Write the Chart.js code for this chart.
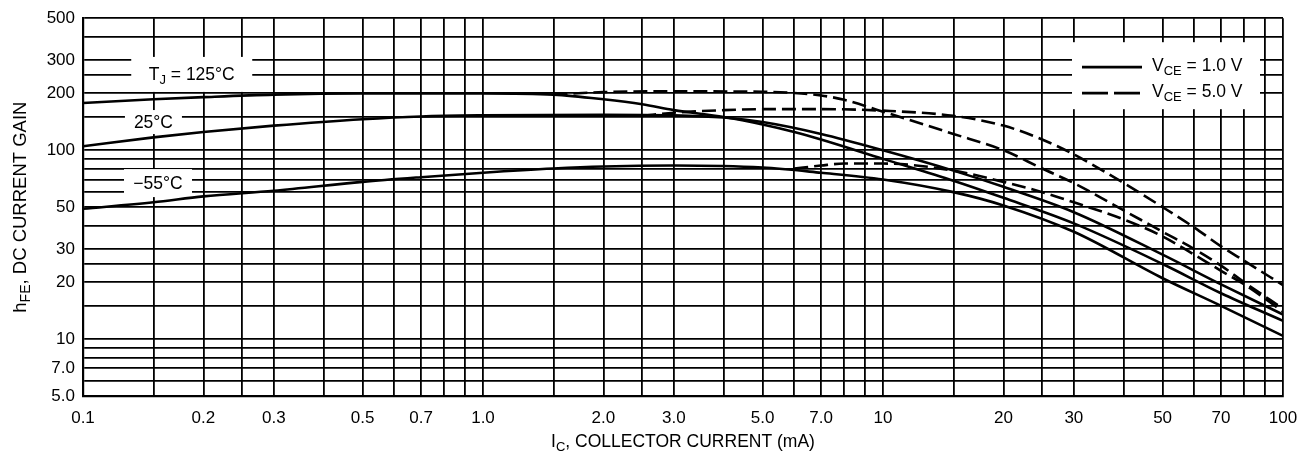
<!DOCTYPE html>
<html>
<head>
<meta charset="utf-8">
<title>hFE, DC Current Gain</title>
<script src="https://cdn.jsdelivr.net/npm/chart.js"></script>
<style>
  html, body { margin: 0; padding: 0; background: #fff; }
  #wrap { width: 1312px; height: 466px; }
</style>
</head>
<body>
<div id="wrap"><canvas id="chart"></canvas></div>
<script>
// IC (mA) / hFE readings, one pair of arrays per curve
// VCE = 1.0 V (solid)
const ic125a = [0.1, 0.15, 0.2, 0.3, 0.5, 1.0, 1.5, 2.0, 2.5, 3.0, 4.0, 5.0, 6.0, 7.0, 10, 15, 20, 30, 50, 70, 100];
const hfe125a = [178, 186, 191, 197, 200, 200, 197, 186, 175, 163, 150, 137, 125, 114, 90, 69, 56, 41, 25, 17.5, 12.5];
const ic25a = [0.1, 0.15, 0.2, 0.3, 0.5, 0.7, 1.0, 2.0, 3.0, 4.0, 5.0, 7.0, 10, 15, 20, 30, 50, 70, 100];
const hfe25a = [105, 117, 125, 135, 146, 151, 153, 154, 153, 149, 141, 122, 100, 78, 64, 47, 28, 19.5, 13.5];
const icM55a = [0.1, 0.15, 0.2, 0.3, 0.5, 0.7, 1.0, 1.5, 2.0, 3.0, 5.0, 7.0, 10, 15, 20, 30, 50, 70, 100];
const hfeM55a = [49, 53, 57, 61, 68, 72, 76, 80, 82, 83, 81, 76, 70, 60, 51, 37, 21, 15, 10.4];
// VCE = 5.0 V (dashed)
const ic125b = [1.5, 2.0, 3.0, 5.0, 6.0, 7.0, 8.0, 10, 15, 20, 25, 30, 40, 50, 60, 70, 80, 100];
const hfe125b = [197, 203, 205, 204, 201, 195, 185, 160, 122, 100, 80, 67, 48, 37, 30, 24.5, 20, 14.5];
const ic25b = [2.5, 3.0, 4.0, 5.0, 7.0, 10, 15, 20, 25, 30, 40, 50, 60, 70, 80, 100];
const hfe25b = [152, 158, 163, 165, 165, 162, 152, 135, 114, 95, 67, 50, 39, 31, 26, 19.3];
const icM55b = [6.0, 7.0, 8.0, 10, 15, 20, 25, 30, 40, 50, 60, 70, 80, 100];
const hfeM55b = [80, 83, 85, 85, 78, 68, 60, 53, 43, 35, 28, 23, 19.5, 14];

// grid lines and labelled ticks
const xGrid = [0.1, 0.15, 0.2, 0.25, 0.3, 0.4, 0.5, 0.6, 0.7, 0.8, 0.9,
  1, 1.5, 2, 2.5, 3, 4, 5, 6, 7, 8, 9,
  10, 15, 20, 25, 30, 40, 50, 60, 70, 80, 90, 100];
const xTickVals = [0.1, 0.2, 0.3, 0.5, 0.7, 1, 2, 3, 5, 7, 10, 20, 30, 50, 70, 100];
const xTickText = ["0.1", "0.2", "0.3", "0.5", "0.7", "1.0", "2.0", "3.0", "5.0", "7.0", "10", "20", "30", "50", "70", "100"];
const yGrid = [5, 6, 7, 8, 9, 10, 15, 20, 25, 30, 40, 50, 60, 70, 80, 90, 100, 150, 200, 250, 300, 400, 500];
const yTickVals = [5, 7, 10, 20, 30, 50, 100, 200, 300, 500];
const yTickText = ["5.0", "7.0", "10", "20", "30", "50", "100", "200", "300", "500"];

const FONT = "'Liberation Sans', Arial, sans-serif";
const font = (px) => `${px}px ${FONT}`;

const pts = (xs, ys) => xs.map((x, i) => ({ x, y: ys[i] }));
const labelFor = (vals, texts) => (v) => {
  const i = vals.findIndex((t) => Math.abs(t - v) / t < 1e-6);
  return i < 0 ? "" : texts[i];
};

const curve = (label, xs, ys, dashed) => ({
  label,
  data: pts(xs, ys),
  borderColor: "#000",
  borderWidth: 2.6,
  borderDash: dashed ? [14, 6] : [],
  pointRadius: 0,
  cubicInterpolationMode: "monotone",
  fill: false,
});

// draw text with subscript parts: [[text, isSub], ...]
function richText(ctx, parts, x, y, size, align) {
  const sub = Math.round(size * 0.74);
  let w = 0;
  parts.forEach(([t, s]) => { ctx.font = font(s ? sub : size); w += ctx.measureText(t).width; });
  let cx = align === "center" ? x - w / 2 : x;
  ctx.textAlign = "left";
  ctx.textBaseline = "middle";
  parts.forEach(([t, s]) => {
    ctx.font = font(s ? sub : size);
    ctx.fillText(t, cx, s ? y + size * 0.3 : y);
    cx += ctx.measureText(t).width;
  });
}

const overlay = {
  id: "overlay",
  beforeDatasetsDraw(chart) {
    const { ctx, chartArea: a, scales: { x, y } } = chart;
    ctx.save();
    ctx.fillStyle = "#fff";
    // temperature labels sit on white patches over the grid
    const tags = [
      { ic: 0.187, h: 252, w: 121, hh: 35, parts: [["T", false], ["J", true], [" = 125°C", false]] },
      { ic: 0.15, h: 141, w: 57, hh: 24, parts: [["25°C", false]] },
      { ic: 0.154, h: 67, w: 68, hh: 28, parts: [["\u221255°C", false]] },
    ];
    tags.forEach((t) => {
      const px = x.getPixelForValue(t.ic), py = y.getPixelForValue(t.h);
      ctx.fillRect(px - t.w / 2, py - t.hh / 2, t.w, t.hh);
    });
    // legend patch
    const lx = a.right - 211, ly = a.top + 24;
    ctx.fillRect(lx, ly, 188, 67);
    ctx.fillStyle = "#000";
    tags.forEach((t) => {
      richText(ctx, t.parts, x.getPixelForValue(t.ic), y.getPixelForValue(t.h) + 1, 17.5, "center");
    });
    ctx.strokeStyle = "#000";
    ctx.lineWidth = 2.8;
    ctx.beginPath();
    ctx.moveTo(lx + 10, ly + 25); ctx.lineTo(lx + 70, ly + 25);
    ctx.stroke();
    ctx.setLineDash([26, 6]);
    ctx.beginPath();
    ctx.moveTo(lx + 10, ly + 51); ctx.lineTo(lx + 70, ly + 51);
    ctx.stroke();
    ctx.setLineDash([]);
    richText(ctx, [["V", false], ["CE", true], [" = 1.0 V", false]], lx + 80, ly + 24, 17.5, "left");
    richText(ctx, [["V", false], ["CE", true], [" = 5.0 V", false]], lx + 80, ly + 50, 17.5, "left");
    ctx.restore();
  },
  afterDraw(chart) {
    const { ctx, chartArea: a } = chart;
    ctx.save();
    ctx.fillStyle = "#000";
    richText(ctx, [["I", false], ["C", true], [", COLLECTOR CURRENT (mA)", false]],
      (a.left + a.right) / 2, a.bottom + 46, 17.5, "center");
    ctx.translate(21, (a.top + a.bottom) / 2);
    ctx.rotate(-Math.PI / 2);
    richText(ctx, [["h", false], ["FE", true], [", DC CURRENT GAIN", false]], 0, 0, 18.5, "center");
    ctx.restore();
  },
};

new Chart(document.getElementById("chart"), {
  type: "line",
  data: {
    datasets: [
      curve("125°C, VCE = 1.0 V", ic125a, hfe125a, false),
      curve("25°C, VCE = 1.0 V", ic25a, hfe25a, false),
      curve("-55°C, VCE = 1.0 V", icM55a, hfeM55a, false),
      curve("125°C, VCE = 5.0 V", ic125b, hfe125b, true),
      curve("25°C, VCE = 5.0 V", ic25b, hfe25b, true),
      curve("-55°C, VCE = 5.0 V", icM55b, hfeM55b, true),
    ],
  },
  options: {
    responsive: true,
    maintainAspectRatio: false,
    animation: false,
    layout: { padding: { top: 13, right: 29, left: 0, bottom: 0 } },
    plugins: { legend: { display: false }, tooltip: { enabled: false } },
    scales: {
      x: {
        type: "logarithmic",
        min: 0.1,
        max: 100,
        afterBuildTicks: (s) => { s.ticks = xGrid.map((v) => ({ value: v })); },
        afterFit: (s) => { s.height = 70; },
        ticks: {
          autoSkip: false,
          maxRotation: 0,
          padding: 12,
          color: "#000",
          font: { family: FONT, size: 17 },
          callback: labelFor(xTickVals, xTickText),
        },
        grid: { color: "#000", lineWidth: 1.8, drawTicks: false },
        border: { color: "#000", width: 2.2 },
      },
      y: {
        type: "logarithmic",
        min: 5,
        max: 500,
        afterBuildTicks: (s) => { s.ticks = yGrid.map((v) => ({ value: v })); },
        afterFit: (s) => { s.width = 83; },
        ticks: {
          autoSkip: false,
          padding: 8,
          color: "#000",
          font: { family: FONT, size: 17 },
          callback: labelFor(yTickVals, yTickText),
        },
        grid: { color: "#000", lineWidth: 1.8, drawTicks: false },
        border: { color: "#000", width: 2.2 },
      },
    },
  },
  plugins: [overlay],
});
</script>
</body>
</html>
